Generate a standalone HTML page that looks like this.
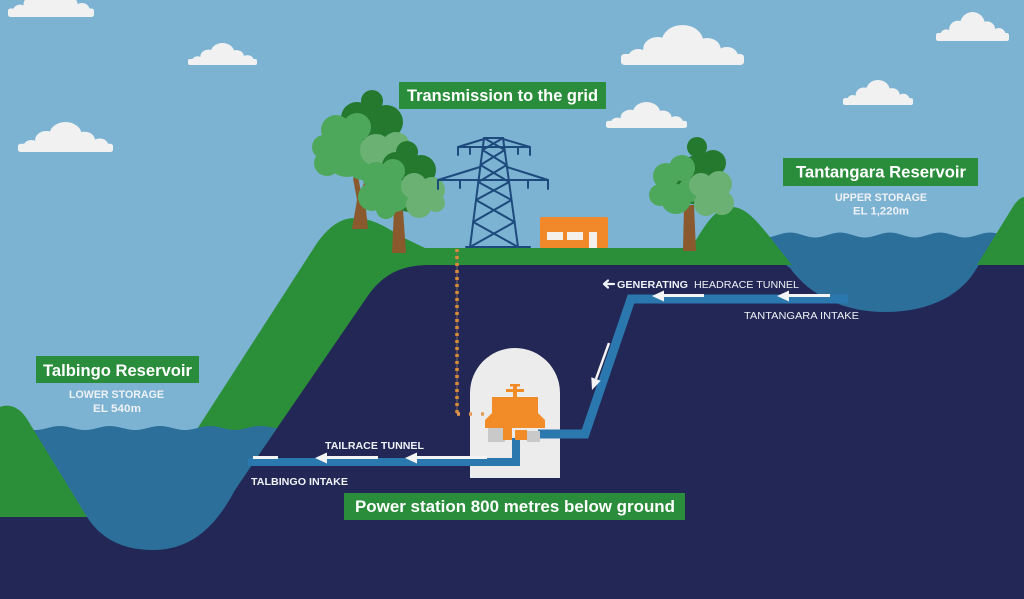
<!DOCTYPE html>
<html><head><meta charset="utf-8"><style>
html,body{margin:0;padding:0;background:#7db3d2;}
body{width:1024px;height:599px;overflow:hidden;}
svg{display:block;}
.lb{font-family:"Liberation Sans",Arial,sans-serif;font-weight:bold;fill:#fff;}
.sm{font-family:"Liberation Sans",Arial,sans-serif;font-weight:bold;fill:#eef2f6;}
.rg{font-family:"Liberation Sans",Arial,sans-serif;font-weight:normal;fill:#eef2f6;}
</style></head><body>
<svg width="1024" height="599" viewBox="0 0 1024 599" xmlns="http://www.w3.org/2000/svg">
<defs>
<symbol id="cl" viewBox="0 0 100 40" preserveAspectRatio="none">
<rect x="0" y="29" width="100" height="11" rx="3" fill="#f1f1f1"/>
<circle cx="14" cy="32" r="8" fill="#f1f1f1"/>
<circle cx="30" cy="24" r="12" fill="#f1f1f1"/>
<circle cx="50" cy="17" r="17" fill="#f1f1f1"/>
<circle cx="70" cy="24" r="11" fill="#f1f1f1"/>
<circle cx="86" cy="31" r="9" fill="#f1f1f1"/>
</symbol>
</defs>
<rect x="0" y="0" width="1024" height="599" fill="#7db3d2"/>
<!-- clouds -->
<use href="#cl" x="8" y="-14" width="86" height="31"/>
<use href="#cl" x="188" y="43" width="69" height="22"/>
<use href="#cl" x="18" y="122" width="95" height="30"/>
<use href="#cl" x="621" y="25" width="123" height="40"/>
<use href="#cl" x="606" y="102" width="81" height="26"/>
<use href="#cl" x="843" y="80" width="70" height="25"/>
<use href="#cl" x="936" y="12" width="73" height="29"/>

<!-- big green ground -->
<path d="M190,440 L317,243 C330,225 342,218 355,218 C372,218 388,228 400,236 L425,248 L1024,248 L1024,599 L190,599 Z" fill="#2b8f3a"/>
<!-- navy underground -->
<path d="M0,517 L216,517 L367,297 C382,275 400,265 430,265 L1024,265 L1024,599 L0,599 Z" fill="#232755"/>
<!-- upper water -->
<path d="M740,232.5 C749,232.5 756,237.5 765,237.5 S781,232.5 790,232.5 S806,237.5 815,237.5 S831,232.5 840,232.5 S856,237.5 865,237.5 S881,232.5 890,232.5 S906,237.5 915,237.5 S931,232.5 940,232.5 S956,237.5 965,237.5 S981,232.5 990,232.5 S1006,237.5 1015,237.5 L978,266 C962,296 928,312 885,312 C845,312 810,296 790,268 Z" fill="#2c6f9b"/>
<!-- lower water -->
<path d="M10,426 C19,426 26,430 35,430 S51,426 60,426 S76,430 85,430 S101,426 110,426 S126,430 135,430 S151,426 160,426 S176,430 185,430 S201,426 210,426 S226,430 235,430 S251,426 260,426 C268,426 272,428 277,428 L235,490 C215,528 190,550 153,550 C120,550 100,537 87,517 Z" fill="#2c6f9b"/>
<!-- hills over water -->
<path d="M690,250 C705,225 715,207 732,207 C750,207 765,232 792,265 L690,265 Z" fill="#2b8f3a"/>
<path d="M977,265 L1014,205 Q1019,198 1024,197 L1024,265 Z" fill="#2b8f3a"/>
<path d="M0,517 L0,407 C10,403 20,408 27,419 L87,517 Z" fill="#2b8f3a"/>

<!-- tree 1 -->
<path d="M352,229 L368,229 L365,200 L372,178 L366,176 L361,192 L358,176 L353,178 L357,200 Z" fill="#8a5a2e"/>
<g fill="#24792f">
<circle cx="372" cy="101" r="11"/><circle cx="357" cy="118" r="16"/><circle cx="386" cy="122" r="17"/><circle cx="372" cy="148" r="31"/>
</g>
<g fill="#4ea85c">
<circle cx="336" cy="130" r="15"/><circle cx="357" cy="127" r="14"/><circle cx="324" cy="147" r="12"/><circle cx="327" cy="163" r="13"/><circle cx="347" cy="155" r="22"/><circle cx="362" cy="166" r="14"/>
</g>
<g fill="#6cb174">
<circle cx="376" cy="150" r="16"/><circle cx="396" cy="146" r="14"/>
</g>
<!-- tree 2 -->
<path d="M394,210 L403,210 L406,253 L392,253 Z" fill="#8a5a2e"/>
<g fill="#24792f">
<circle cx="407" cy="152" r="11"/><circle cx="396" cy="166" r="14"/><circle cx="421" cy="170" r="15"/><circle cx="410" cy="190" r="22"/>
</g>
<g fill="#4ea85c">
<circle cx="376" cy="176" r="14"/><circle cx="393" cy="171" r="12"/><circle cx="372" cy="197" r="14"/><circle cx="394" cy="195" r="17"/><circle cx="386" cy="209" r="10"/>
</g>
<g fill="#6cb174">
<circle cx="414" cy="186" r="13"/><circle cx="432" cy="190" r="13"/><circle cx="419" cy="205" r="13"/><circle cx="436" cy="203" r="9"/>
</g>
<!-- right tree -->
<path d="M684,205 L694,205 L696,251 L683,251 Z" fill="#8a5a2e"/>
<g fill="#24792f">
<circle cx="697" cy="147" r="10"/><circle cx="713" cy="163" r="13"/><circle cx="699" cy="180" r="25"/>
</g>
<g fill="#4ea85c">
<circle cx="666" cy="176" r="13"/><circle cx="682" cy="168" r="13"/><circle cx="660" cy="195" r="11"/><circle cx="676" cy="199" r="15"/><circle cx="690" cy="190" r="12"/>
</g>
<g fill="#6cb174">
<circle cx="701" cy="185" r="12"/><circle cx="719" cy="184" r="13"/><circle cx="706" cy="204" r="12"/><circle cx="722" cy="203" r="12"/>
</g>

<!-- tower -->
<g stroke="#1d4a7c" stroke-width="2" fill="none" stroke-linecap="round">
<line x1="484" y1="138" x2="470" y2="247"/>
<line x1="503" y1="138" x2="518" y2="247"/>
<line x1="484" y1="138" x2="503" y2="138"/>
<line x1="466" y1="247" x2="530" y2="247"/>
<path d="M484,138 L504.7,150 M503,138 L482.5,150 M482.5,150 L506.7,165 M504.7,150 L480.5,165 M480.5,165 L509.1,182 M506.7,165 L478.3,182 M478.3,182 L511.5,200 M509.1,182 L476,200 M476,200 L514.6,222 M511.5,200 L473.2,222 M473.2,222 L518,247 M514.6,222 L470,247"/>
<path d="M458,147 L530,147 M458,147 L484,139 M530,147 L503,139 M458,147 L458,155 M470,147 L470,154 M518,147 L518,154 M530,147 L530,155"/>
<path d="M438,180 L548,180 M438,180 L480,167 M548,180 L507,167 M438,180 L438,189 M460,180 L460,188 M528,180 L528,188 M548,180 L548,189"/>
</g>
<!-- building -->
<rect x="540" y="217" width="68" height="31" rx="2" fill="#f1892a"/>
<rect x="547" y="232" width="16" height="8" fill="#f4f1ec"/>
<rect x="567" y="232" width="16" height="8" fill="#f4f1ec"/>
<rect x="589" y="232" width="8" height="16" fill="#f4f1ec"/>

<!-- cavern -->
<path d="M470,478 L470,393 A45,45 0 0 1 560,393 L560,478 Z" fill="#ececec"/>

<!-- tunnels -->
<path d="M848,299 L631,299 L585,434 L538,434" stroke="#2a78ad" stroke-width="9" fill="none" stroke-linejoin="miter"/>
<path d="M516,438 L516,462 L248,462" stroke="#2a78ad" stroke-width="8" fill="none" stroke-linejoin="miter"/>

<!-- generator -->
<rect x="488" y="428" width="17" height="14" fill="#c9c9c9"/>
<rect x="527" y="431" width="13" height="11" fill="#c9c9c9"/>
<polygon points="492,397 538,397 538,413 545,420 545,428 485,428 485,420 492,413" fill="#f28c28"/>
<rect x="503" y="428" width="9" height="12" fill="#f28c28"/>
<rect x="515" y="430" width="12" height="10" fill="#f28c28"/>
<rect x="513" y="386" width="4" height="12" fill="#f28c28"/>
<rect x="506" y="389" width="18" height="3" fill="#f28c28"/>
<rect x="510" y="384" width="10" height="2.5" fill="#f28c28"/>

<!-- cable -->
<line x1="457" y1="249" x2="457" y2="414" stroke="#7a6a5a" stroke-width="1"/>
<line x1="457" y1="249" x2="457" y2="414" stroke="#d98b3a" stroke-width="3.5" stroke-dasharray="3 4"/>
<line x1="457" y1="414" x2="492" y2="414" stroke="#e39a55" stroke-width="3.5" stroke-dasharray="3 9"/>

<!-- white arrows headrace -->
<g fill="#f4f4f4">
<rect x="662" y="294" width="42" height="3"/>
<polygon points="652,296 664,290.5 664,301.5"/>
<rect x="787" y="294" width="43" height="3"/>
<polygon points="777,296 789,290.5 789,301.5"/>
<!-- tailrace -->
<rect x="253" y="456" width="25" height="3"/>
<rect x="325" y="456" width="53" height="3"/>
<polygon points="315,458 327,452.5 327,463.5"/>
<rect x="415" y="456" width="72" height="3"/>
<polygon points="405,458 417,452.5 417,463.5"/>
<!-- diagonal -->
<polygon points="592,390 600.7,380.7 591.3,377.3"/>
</g>
<line x1="609" y1="343" x2="596" y2="379" stroke="#f4f4f4" stroke-width="2.5"/>

<!-- label boxes -->
<rect x="399" y="82" width="207" height="27" fill="#2a8d3b"/>
<text class="lb" x="407" y="101" font-size="16.5" textLength="191" lengthAdjust="spacingAndGlyphs">Transmission to the grid</text>
<rect x="783" y="158" width="195" height="28" fill="#2a8d3b"/>
<text class="lb" x="796" y="177.5" font-size="17" textLength="170" lengthAdjust="spacingAndGlyphs">Tantangara Reservoir</text>
<rect x="36" y="356" width="163" height="27" fill="#2a8d3b"/>
<text class="lb" x="43" y="376" font-size="17" textLength="149" lengthAdjust="spacingAndGlyphs">Talbingo Reservoir</text>
<rect x="344" y="493" width="341" height="27" fill="#2a8d3b"/>
<text class="lb" x="355" y="512" font-size="17" textLength="320" lengthAdjust="spacingAndGlyphs">Power station 800 metres below ground</text>

<!-- small labels -->
<text class="sm" x="835" y="201" font-size="11" textLength="92" lengthAdjust="spacingAndGlyphs" fill="#e4ecf3">UPPER STORAGE</text>
<text class="sm" x="853" y="214.5" font-size="11" textLength="56" lengthAdjust="spacingAndGlyphs">EL 1,220m</text>
<text class="sm" x="69" y="398" font-size="11" textLength="95" lengthAdjust="spacingAndGlyphs">LOWER STORAGE</text>
<text class="sm" x="93" y="412" font-size="11" textLength="48" lengthAdjust="spacingAndGlyphs">EL 540m</text>
<text class="sm" x="325" y="449" font-size="10" textLength="99" lengthAdjust="spacingAndGlyphs">TAILRACE TUNNEL</text>
<text class="sm" x="251" y="485" font-size="10" textLength="97" lengthAdjust="spacingAndGlyphs">TALBINGO INTAKE</text>
<text class="sm" x="617" y="288" font-size="10" textLength="71" lengthAdjust="spacingAndGlyphs">GENERATING</text>
<text class="rg" x="694" y="288" font-size="10" textLength="105" lengthAdjust="spacingAndGlyphs">HEADRACE TUNNEL</text>
<text class="rg" x="744" y="319" font-size="10" textLength="115" lengthAdjust="spacingAndGlyphs">TANTANGARA INTAKE</text>
<path d="M614,284 L604.5,284 M608,280.5 L604,284 L608,287.5" stroke="#eef2f6" stroke-width="2.2" fill="none" stroke-linecap="round" stroke-linejoin="round"/>
</svg>
</body></html>
